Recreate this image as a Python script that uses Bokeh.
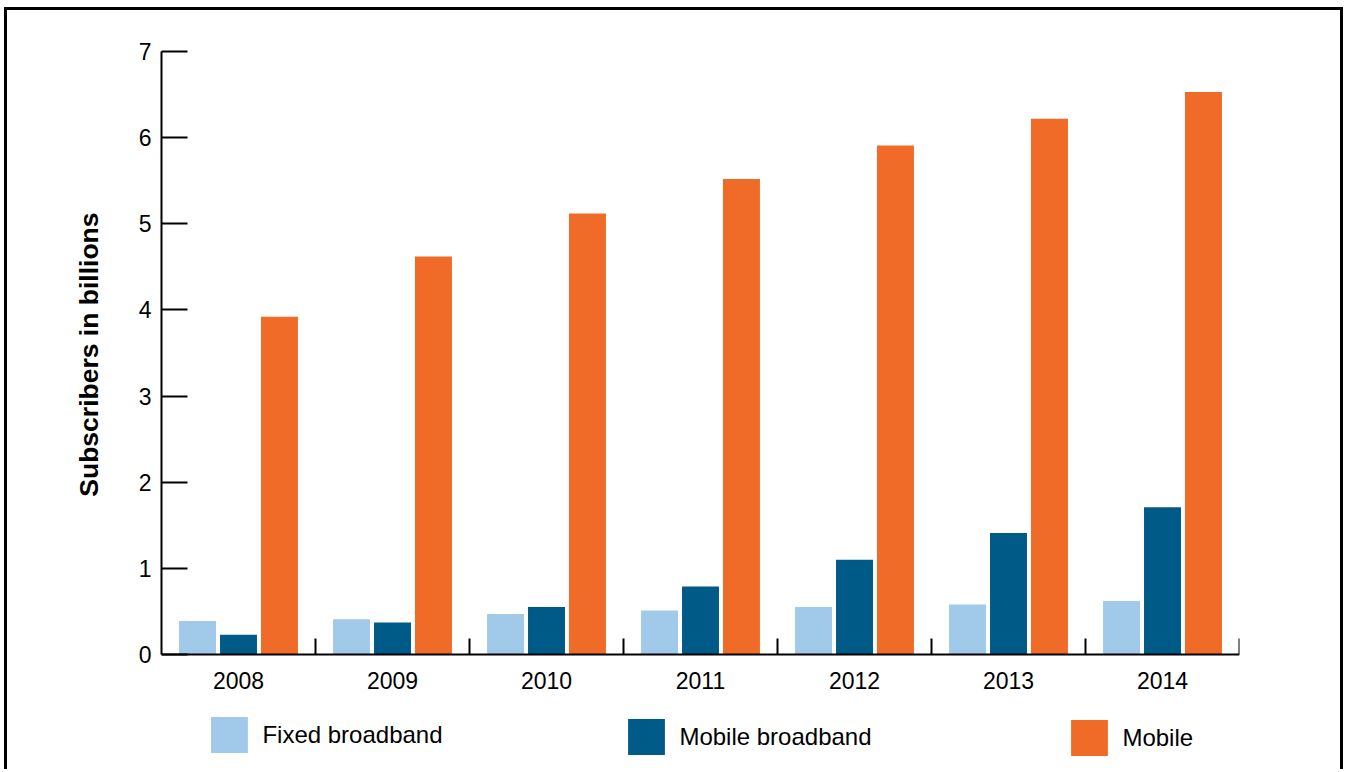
from bokeh.plotting import figure
from bokeh.models import Range1d, FixedTicker, Legend, LegendItem, Title
from bokeh.embed import file_html
from bokeh.resources import INLINE

years = ["2008", "2009", "2010", "2011", "2012", "2013", "2014"]
fixed_broadband = [0.39, 0.41, 0.47, 0.51, 0.55, 0.58, 0.62]
mobile_broadband = [0.23, 0.37, 0.55, 0.79, 1.10, 1.41, 1.71]
mobile = [3.92, 4.62, 5.12, 5.52, 5.91, 6.22, 6.53]
y_ticks = [0, 1, 2, 3, 4, 5, 6, 7]

series = [
    ("Fixed broadband", fixed_broadband, "#A0C9EA", -0.266),
    ("Mobile broadband", mobile_broadband, "#005A87", 0.0),
    ("Mobile", mobile, "#F06A28", 0.266),
]

FONT = "Liberation Sans"

p = figure(width=1339, height=762, output_backend="svg", toolbar_location=None,
           x_range=Range1d(0, 7), y_range=Range1d(-1.370, 7),
           min_border_left=154, min_border_top=41, min_border_right=107, min_border_bottom=0,
           styles={"position": "absolute", "left": "4px", "top": "7px",
                   "border-top": "3px solid black", "border-left": "3px solid black",
                   "border-right": "3px solid black"})
p.outline_line_color = None
p.xgrid.visible = False
p.ygrid.visible = False
p.background_fill_color = "white"
p.border_fill_color = "white"

renderers = []
centers = [i + 0.5 for i in range(len(years))]
for name, vals, color, off in series:
    r = p.vbar(x=[c + off for c in centers], top=vals, width=0.24, bottom=0,
               fill_color=color, line_color=None)
    renderers.append((name, r))

# x axis placed at y = 0: labels at centres, boundary ticks as inward minor ticks
xa = p.xaxis[0]
xa.fixed_location = 0
xa.ticker = FixedTicker(ticks=centers, minor_ticks=[1, 2, 3, 4, 5, 6, 7])
xa.major_label_overrides = {c: y for c, y in zip(centers, years)}
xa.major_tick_line_color = None
xa.major_tick_in = 0
xa.major_tick_out = 0
xa.minor_tick_in = 16
xa.minor_tick_out = 0
xa.minor_tick_line_width = 2
xa.minor_tick_line_color = "black"
xa.axis_line_width = 2
xa.axis_line_color = "black"
xa.major_label_text_font = FONT
xa.major_label_text_font_size = "23px"
xa.major_label_text_color = "black"
xa.major_label_standoff = 18

ya = p.yaxis[0]
ya.ticker = FixedTicker(ticks=y_ticks, minor_ticks=[])
ya.bounds = (0, 7)
ya.major_tick_in = 26
ya.major_tick_out = 0
ya.major_tick_line_width = 2
ya.axis_line_width = 2
ya.axis_line_color = "black"
ya.major_label_text_font = FONT
ya.major_label_text_font_size = "23px"
ya.major_label_text_color = "black"
ya.major_label_standoff = 10

ytitle = Title(text="Subscribers in billions", align="right", offset=161,
               vertical_align="middle", text_font=FONT, text_font_size="26.5px",
               text_font_style="bold", text_color="black", standoff=62)
p.add_layout(ytitle, "left")

locs = [(45.4, 12), (462.4, 10), (905.4, 9)]
for (name, r), loc in zip(renderers, locs):
    lg = Legend(items=[LegendItem(label=name, renderers=[r])], location=loc,
                orientation="horizontal", glyph_width=46, glyph_height=45,
                label_height=51, label_standoff=10, label_text_font=FONT,
                label_text_font_size="24px", label_text_color="black",
                padding=0, margin=0, spacing=0,
                border_line_color=None, background_fill_alpha=0)
    p.add_layout(lg, "center")

open("out.html", "w").write(file_html(p, INLINE))
